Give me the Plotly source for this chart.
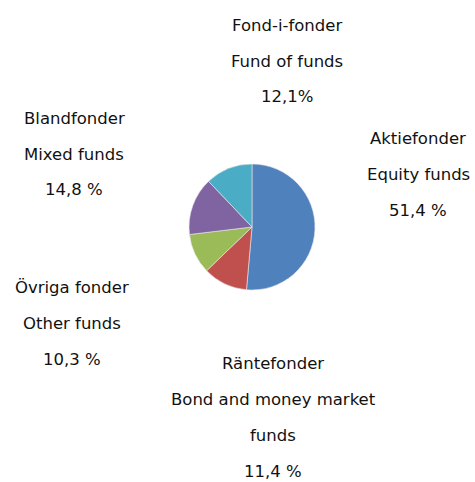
import plotly.graph_objects as go

# Data
names_sv = ["Aktiefonder", "Räntefonder", "Övriga fonder", "Blandfonder", "Fond-i-fonder"]
names_en = [["Equity funds"], ["Bond and money market", "funds"], ["Other funds"], ["Mixed funds"], ["Fund of funds"]]
values = [51.4, 11.4, 10.3, 14.8, 12.1]
pct_labels = ["51,4 %", "11,4 %", "10,3 %", "14,8 %", "12,1%"]
colors = ["#4F81BD", "#C0504D", "#9BBB59", "#8064A2", "#4BACC6"]

W, H = 475, 482
cx, cy, r = 252, 227, 63

fig = go.Figure(go.Pie(
    labels=names_sv, values=values, sort=False, direction="clockwise", rotation=0,
    marker=dict(colors=colors, line=dict(color="#e8e8e8", width=0.6)),
    textinfo="none", hoverinfo="label+percent", showlegend=False,
    domain=dict(x=[(cx - r) / W, (cx + r) / W], y=[1 - (cy + r) / H, 1 - (cy - r) / H]),
))

# label anchor positions (pixel centre x, y of first line)
label_pos = [(418, 138), (273, 363), (72, 287), (74, 118), (287, 25)]
line_gap = 36

anns = []
for i, (px, py) in enumerate(label_pos):
    lines = [names_sv[i]] + names_en[i] + [pct_labels[i]]
    for j, t in enumerate(lines):
        anns.append(dict(
            text=t, x=px / W, y=1 - (py + j * line_gap) / H, xref="paper", yref="paper",
            xanchor="center", yanchor="middle", showarrow=False,
            font=dict(family="DejaVu Sans", size=16.5, color="#111111"),
        ))

fig.update_layout(
    width=W, height=H, margin=dict(l=0, r=0, t=0, b=0),
    paper_bgcolor="white", plot_bgcolor="white", annotations=anns,
)
fig.write_html("out.html")
